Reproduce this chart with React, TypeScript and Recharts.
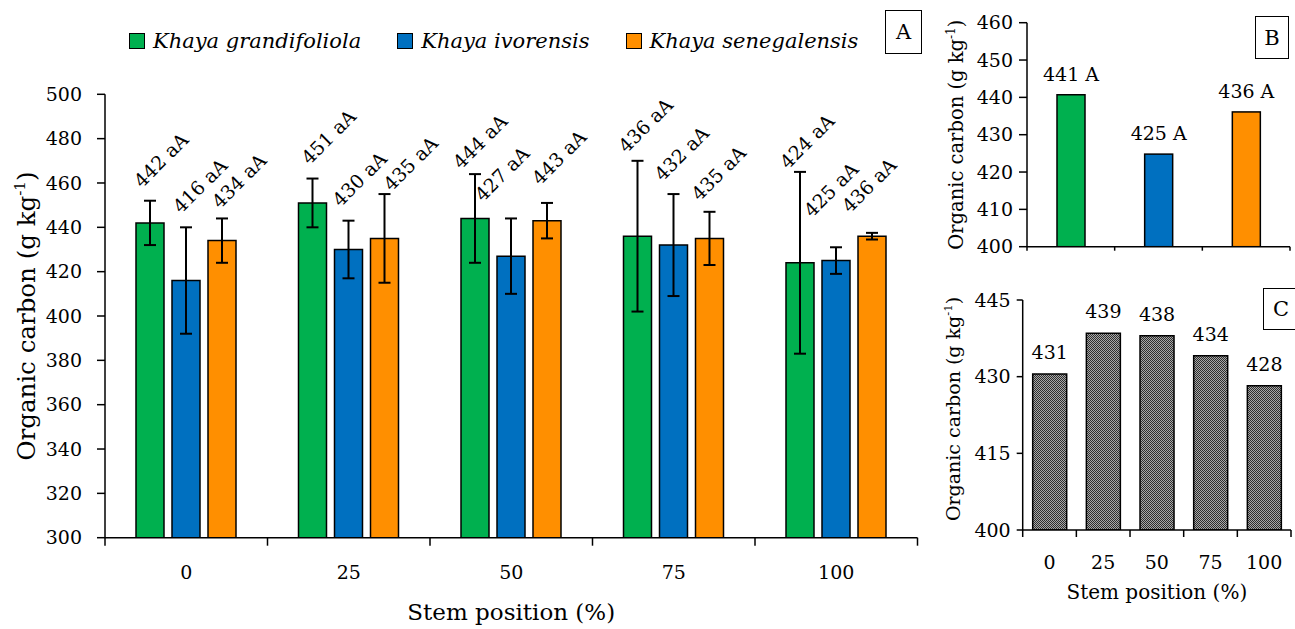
import React from 'react';
import { BarChart, Bar, XAxis, YAxis, ErrorBar, LabelList } from 'recharts';

const FONT = '"DejaVu Serif", "Liberation Serif", serif';

// ---------- Panel A ----------
const stemPositions = ['0', '25', '50', '75', '100'];
const grandifoliola = [442, 451, 444, 436, 424];
const ivorensis = [416, 430, 427, 432, 425];
const senegalensis = [434, 435, 443, 435, 436];
const grandifoliolaSd = [10, 11, 20, 34, 41];
const ivorensisSd = [24, 13, 17, 23, 6];
const senegalensisSd = [10, 20, 8, 12, 1.5];
const grandifoliolaLetters = ['aA', 'aA', 'aA', 'aA', 'aA'];
const ivorensisLetters = ['aA', 'aA', 'aA', 'aA', 'aA'];
const senegalensisLetters = ['aA', 'aA', 'aA', 'aA', 'aA'];
const majorTicksA = [300, 320, 340, 360, 380, 400, 420, 440, 460, 480, 500];

// ---------- Panel B ----------
const species = ['Khaya grandifoliola', 'Khaya ivorensis', 'Khaya senegalensis'];
const speciesMean = [440.7, 424.8, 436.1];
const speciesLetters = ['A', 'A', 'A'];
const majorTicksB = [400, 410, 420, 430, 440, 450, 460];

// ---------- Panel C ----------
const positionMean = [430.5, 438.5, 438.0, 434.1, 428.2];
const majorTicksC = [400, 415, 430, 445];

// Layout only: small hand-placed nudges of the rotated labels (px, relative to the error-bar cap)
const NUDGE_G = [[-8, -12], [-3, -13], [-14, -4], [-11, -7], [-12, -2]];
const NUDGE_IV = [[-5, -13], [-8, -13], [-28, -16], [-11, -12], [-24, -29]];
const NUDGE_S = [[-2, -9], [7, -2], [-7, -17], [-10, -10], [-22, -19]];

const GREEN = '#00B04F';
const BLUE = '#0070C0';
const ORANGE = '#FF8F00';
const speciesColors = [GREEN, BLUE, ORANGE];

const range = (a: number, b: number, step: number) => {
  const out: number[] = [];
  for (let v = a; v <= b + 1e-9; v += step) out.push(Math.round(v * 100) / 100);
  return out;
};

const dataA = stemPositions.map((p, i) => ({
  pos: p,
  g: grandifoliola[i],
  gSd: grandifoliolaSd[i],
  iv: ivorensis[i],
  ivSd: ivorensisSd[i],
  s: senegalensis[i],
  sSd: senegalensisSd[i],
}));

const dataB = species.map((sp, i) => ({
  sp,
  mean: speciesMean[i],
  lbl: `${Math.round(speciesMean[i])} ${speciesLetters[i]}`,
  color: speciesColors[i],
}));

const dataC = stemPositions.map((p, i) => ({
  pos: p,
  mean: positionMean[i],
  lbl: String(Math.round(positionMean[i])),
}));

const AXIS_STYLE = { stroke: '#000', strokeWidth: 1.5 };

const YTitle = (props: any) => {
  const vb = props.viewBox || {};
  const { gap, fontSize, dy = 0 } = props;
  const cx = vb.x + vb.width - gap;
  const cy = vb.y + vb.height / 2 + dy;
  return (
    <text
      x={cx}
      y={cy}
      transform={`rotate(-90 ${cx} ${cy})`}
      textAnchor="middle"
      fontFamily={FONT}
      fontSize={fontSize}
      fill="#000"
    >
      Organic carbon (g kg
      <tspan dy={-fontSize * 0.4} fontSize={fontSize * 0.62}>-1</tspan>
      <tspan dy={fontSize * 0.4}>)</tspan>
    </text>
  );
};

const XTitle = (props: any) => {
  const vb = props.viewBox || {};
  const { dyTitle, fontSize } = props;
  return (
    <text
      x={vb.x + vb.width / 2}
      y={vb.y + dyTitle}
      textAnchor="middle"
      fontFamily={FONT}
      fontSize={fontSize}
      fill="#000"
    >
      Stem position (%)
    </text>
  );
};

const CatTick = (props: any) => {
  const { x, y, payload, index, bw, n, tickLen, labelDy, showLabel, fontSize } = props;
  return (
    <g>
      <line x1={x - bw / 2} x2={x - bw / 2} y1={y} y2={y + tickLen} stroke="#000" strokeWidth={1.5} />
      {index === n - 1 && (
        <line x1={x + bw / 2} x2={x + bw / 2} y1={y} y2={y + tickLen} stroke="#000" strokeWidth={1.5} />
      )}
      {showLabel && (
        <text x={x} y={y + labelDy} textAnchor="middle" fontFamily={FONT} fontSize={fontSize} fill="#000">
          {payload.value}
        </text>
      )}
    </g>
  );
};

const makeRotLabel = (sds: number[], letters: string[], nudges: number[][], base: number) => (props: any) => {
  const vb = props.viewBox || props;
  const { x, y, width, height } = vb;
  const idx = props.index;
  const value = props.value;
  const cx = x + width / 2;
  const ppu = height / (value - base);
  const top = y - sds[idx] * ppu;
  const sx = cx + nudges[idx][0];
  const sy = top + nudges[idx][1];
  return (
    <text
      x={sx}
      y={sy}
      transform={`rotate(-45 ${sx} ${sy})`}
      fontFamily={FONT}
      fontSize={19}
      fill="#000"
    >
      {`${value} ${letters[idx]}`}
    </text>
  );
};

const TopLabel = (props: any) => {
  const vb = props.viewBox || props;
  const { x, y, width } = vb;
  return (
    <text x={x + width / 2} y={y - props.gap} textAnchor="middle" fontFamily={FONT} fontSize={19} fill="#000">
      {props.value}
    </text>
  );
};

const boxStyle = (left: number, top: number, w: number, h: number): React.CSSProperties => ({
  position: 'absolute',
  left,
  top,
  width: w,
  height: h,
  border: '1.5px solid #000',
  boxSizing: 'border-box',
  display: 'flex',
  alignItems: 'center',
  justifyContent: 'center',
  fontFamily: FONT,
  fontSize: 21,
  color: '#000',
  background: '#fff',
});

export default function App() {
  const A = { w: 930, h: 629, ml: 35, mr: 12.5, mt: 94.3, mb: 31.3, yw: 70, xh: 60 };
  const bwA = (A.w - A.ml - A.yw - A.mr) / stemPositions.length;
  const B = { w: 365, h: 270, ml: 37, mr: 5, mt: 22.7, mb: 13.3, yw: 60, xh: 10 };
  const bwB = (B.w - B.ml - B.yw - B.mr) / species.length;
  const C = { w: 365, h: 359, ml: 32.7, mr: 4, mt: 30, mb: 29, yw: 60, xh: 70 };
  const bwC = (C.w - C.ml - C.yw - C.mr) / stemPositions.length;

  return (
    <div style={{ position: 'absolute', left: 0, top: 0, width: 1295, height: 629, background: '#fff', overflow: 'hidden' }}>
      {/* Legend for panel A */}
      <div style={{ position: 'absolute', left: 129, top: 29, display: 'flex', alignItems: 'center', fontFamily: FONT, whiteSpace: 'nowrap' }}>
        {species.map((name, i) => (
          <div key={name} style={{ display: 'flex', alignItems: 'center', marginRight: 36 }}>
            <div
              style={{
                width: 16,
                height: 16,
                boxSizing: 'border-box',
                background: speciesColors[i],
                border: '1.5px solid #000',
                marginRight: 8,
              }}
            />
            <span style={{ fontStyle: 'italic', fontSize: 21, color: '#000' }}>{name}</span>
          </div>
        ))}
      </div>

      {/* Panel A */}
      <div style={{ position: 'absolute', left: 0, top: 0 }}>
        <BarChart
          width={A.w}
          height={A.h}
          data={dataA}
          margin={{ top: A.mt, right: A.mr, bottom: A.mb, left: A.ml }}
          barSize={28}
          barGap={8}
        >
          <YAxis
            yAxisId="minor"
            type="number"
            orientation="left"
            mirror
            width={0}
            domain={[300, 500]}
            ticks={range(300, 500, 4)}
            interval={0}
            allowDataOverflow
            tickSize={5}
            tick={false}
            axisLine={false}
            tickLine={AXIS_STYLE}
          />
          <YAxis
            yAxisId="main"
            type="number"
            domain={[300, 500]}
            ticks={majorTicksA}
            interval={0}
            allowDataOverflow
            width={A.yw}
            tickSize={8}
            tickMargin={15}
            axisLine={AXIS_STYLE}
            tickLine={AXIS_STYLE}
            tick={{ fill: '#000', fontSize: 19, fontFamily: FONT }}
            label={<YTitle gap={70} fontSize={24.5} />}
          />
          <XAxis
            dataKey="pos"
            height={A.xh}
            interval={0}
            tickSize={0}
            tickMargin={0}
            tickLine={false}
            axisLine={AXIS_STYLE}
            tick={(p: any) => (
              <CatTick {...p} bw={bwA} n={stemPositions.length} tickLen={8} labelDy={41} showLabel fontSize={19} />
            )}
            label={<XTitle dyTitle={82} fontSize={23} />}
          />
          <Bar yAxisId="main" dataKey="g" name="Khaya grandifoliola" fill={GREEN} stroke="#000" strokeWidth={1.5} isAnimationActive={false}>
            <ErrorBar dataKey="gSd" width={6} stroke="#000" strokeWidth={2} direction="y" />
            <LabelList dataKey="g" content={makeRotLabel(grandifoliolaSd, grandifoliolaLetters, NUDGE_G, 300)} />
          </Bar>
          <Bar yAxisId="main" dataKey="iv" name="Khaya ivorensis" fill={BLUE} stroke="#000" strokeWidth={1.5} isAnimationActive={false}>
            <ErrorBar dataKey="ivSd" width={6} stroke="#000" strokeWidth={2} direction="y" />
            <LabelList dataKey="iv" content={makeRotLabel(ivorensisSd, ivorensisLetters, NUDGE_IV, 300)} />
          </Bar>
          <Bar yAxisId="main" dataKey="s" name="Khaya senegalensis" fill={ORANGE} stroke="#000" strokeWidth={1.5} isAnimationActive={false}>
            <ErrorBar dataKey="sSd" width={6} stroke="#000" strokeWidth={2} direction="y" />
            <LabelList dataKey="s" content={makeRotLabel(senegalensisSd, senegalensisLetters, NUDGE_S, 300)} />
          </Bar>
        </BarChart>
      </div>
      <div style={boxStyle(885, 10, 37, 44)}>A</div>

      {/* Panel B */}
      <div style={{ position: 'absolute', left: 930, top: 0 }}>
        <BarChart
          width={B.w}
          height={B.h}
          data={dataB}
          margin={{ top: B.mt, right: B.mr, bottom: B.mb, left: B.ml }}
          barSize={28}
        >
          <YAxis
            yAxisId="minor"
            type="number"
            orientation="left"
            mirror
            width={0}
            domain={[400, 460]}
            ticks={range(400, 460, 2)}
            interval={0}
            allowDataOverflow
            tickSize={4}
            tick={false}
            axisLine={false}
            tickLine={AXIS_STYLE}
          />
          <YAxis
            yAxisId="main"
            type="number"
            domain={[400, 460]}
            ticks={majorTicksB}
            interval={0}
            allowDataOverflow
            width={B.yw}
            tickSize={8}
            tickMargin={6}
            axisLine={AXIS_STYLE}
            tickLine={AXIS_STYLE}
            tick={{ fill: '#000', fontSize: 19, fontFamily: FONT }}
            label={<YTitle gap={64} fontSize={19.5} />}
          />
          <XAxis
            dataKey="sp"
            height={B.xh}
            interval={0}
            tickSize={0}
            tickMargin={0}
            tickLine={false}
            axisLine={AXIS_STYLE}
            tick={(p: any) => <CatTick {...p} bw={bwB} n={species.length} tickLen={4} labelDy={0} showLabel={false} />}
          />
          <Bar yAxisId="main" dataKey="mean" stroke="#000" strokeWidth={1.5} isAnimationActive={false}
            shape={(p: any) => (
              <rect x={p.x} y={p.y} width={p.width} height={p.height} fill={p.payload.color} stroke="#000" strokeWidth={1.5} />
            )}
          >
            <LabelList dataKey="lbl" content={(p: any) => <TopLabel {...p} gap={14} />} />
          </Bar>
        </BarChart>
      </div>
      <div style={boxStyle(1255, 16, 34, 43)}>B</div>

      {/* Panel C */}
      <div style={{ position: 'absolute', left: 930, top: 270 }}>
        <BarChart
          width={C.w}
          height={C.h}
          data={dataC}
          margin={{ top: C.mt, right: C.mr, bottom: C.mb, left: C.ml }}
          barSize={34}
        >
          <defs>
            <pattern id="checkC" width="2" height="2" patternUnits="userSpaceOnUse">
              <rect width="2" height="2" fill="#a8a8a8" />
              <rect width="1" height="1" fill="#2e2e2e" />
              <rect x="1" y="1" width="1" height="1" fill="#2e2e2e" />
            </pattern>
          </defs>
          <YAxis
            yAxisId="minor"
            type="number"
            orientation="left"
            mirror
            width={0}
            domain={[400, 445]}
            ticks={range(400, 445, 3)}
            interval={0}
            allowDataOverflow
            tickSize={7}
            tick={false}
            axisLine={false}
            tickLine={AXIS_STYLE}
          />
          <YAxis
            yAxisId="main"
            type="number"
            domain={[400, 445]}
            ticks={majorTicksC}
            interval={0}
            allowDataOverflow
            width={C.yw}
            tickSize={6}
            tickMargin={6}
            axisLine={AXIS_STYLE}
            tickLine={AXIS_STYLE}
            tick={{ fill: '#000', fontSize: 19, fontFamily: FONT }}
            label={<YTitle gap={63} fontSize={19} dy={-6} />}
          />
          <XAxis
            dataKey="pos"
            height={C.xh}
            interval={0}
            tickSize={0}
            tickMargin={0}
            tickLine={false}
            axisLine={AXIS_STYLE}
            tick={(p: any) => (
              <CatTick {...p} bw={bwC} n={stemPositions.length} tickLen={7} labelDy={39} showLabel fontSize={19} />
            )}
            label={<XTitle dyTitle={69} fontSize={20} />}
          />
          <Bar yAxisId="main" dataKey="mean" fill="url(#checkC)" stroke="#000" strokeWidth={1.5} isAnimationActive={false}>
            <LabelList dataKey="lbl" content={(p: any) => <TopLabel {...p} gap={15} />} />
          </Bar>
        </BarChart>
      </div>
      <div style={boxStyle(1263, 288, 36, 42)}>C</div>
    </div>
  );
}
